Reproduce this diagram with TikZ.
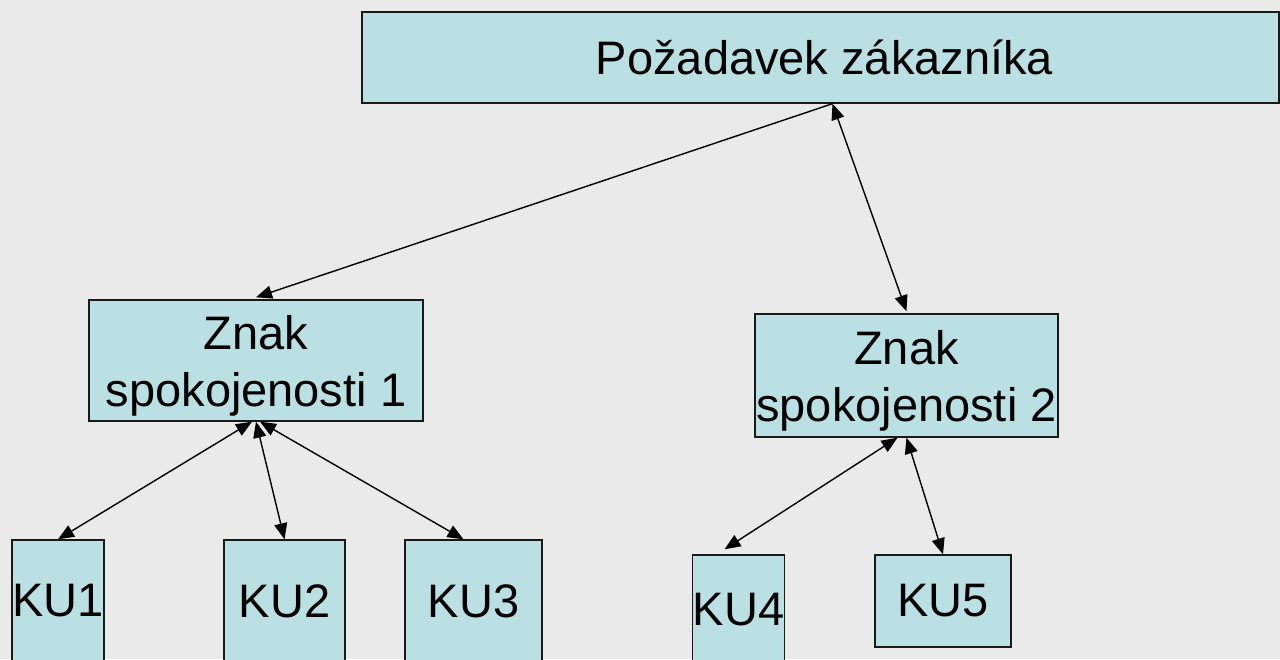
\documentclass[tikz,border=0pt]{standalone}
\usepackage{fontspec}
\setmainfont{Liberation Sans}
\usetikzlibrary{arrows.meta}

\definecolor{slidebg}{HTML}{EAEAEA}
\definecolor{boxfill}{HTML}{BBE0E3}

\begin{document}
\begin{tikzpicture}[x=1pt,y=-1pt,
    box/.style={draw=black!90,fill=boxfill,line width=1.4pt,inner sep=0pt,
      align=center,font=\fontsize{47}{57}\selectfont},
    signbox/.style={box,text depth=0pt},
    link/.style={line width=1.4pt,-{Triangle[length=16pt,width=13pt]}},
    twolink/.style={link,{Triangle[length=16pt,width=13pt]}-{Triangle[length=16pt,width=13pt]}}]
    \useasboundingbox (0,0) rectangle (1280,659);
    \fill[slidebg] (0,0) rectangle (1280,659);
    \clip (0,0) rectangle (1280,659);

    \node[box,minimum width=917pt,minimum height=91pt] (top) at (820.5,57.5) {\hspace{8pt}Požadavek zákazníka};
    \node[signbox,minimum width=334pt,minimum height=121pt] (znak1) at (256,360.5) {Znak\hspace{10pt}\\spokojenosti 1};
    \node[signbox,minimum width=303pt,minimum height=123pt] (znak2) at (906.5,375.5) {Znak\hspace{10pt}\\spokojenosti 2};

    \node[box,minimum width=92pt,minimum height=122pt] (ku1) at (58,601) {KU1};
    \node[box,minimum width=121pt,minimum height=122pt] (ku2) at (284.5,601) {KU2};
    \node[box,minimum width=137pt,minimum height=122pt] (ku3) at (473.5,601) {KU3};
    \node[box,minimum width=91pt,minimum height=110pt] (ku4) at (738.5,610) {KU4};
    \node[box,minimum width=136pt,minimum height=92pt] (ku5) at (943,601) {KU5};

    \coordinate (tp) at ([xshift=12pt]top.south);
    \coordinate (ku4in) at ([xshift=-14pt,yshift=5pt]ku4.north);

    \draw[link] (tp) -- ([yshift=2pt]znak1.north);
    \draw[twolink] (tp) -- ([yshift=2pt]znak2.north);

    \draw[twolink] ([xshift=-4pt]znak1.south) -- (ku1.north);
    \draw[twolink] (znak1.south) -- (ku2.north);
    \draw[twolink] ([xshift=4pt]znak1.south) -- ([xshift=-10pt]ku3.north);

    \draw[twolink] ([xshift=-9pt]znak2.south) -- (ku4in);
    \draw[twolink] (znak2.south) -- (ku5.north);
\end{tikzpicture}
\end{document}
